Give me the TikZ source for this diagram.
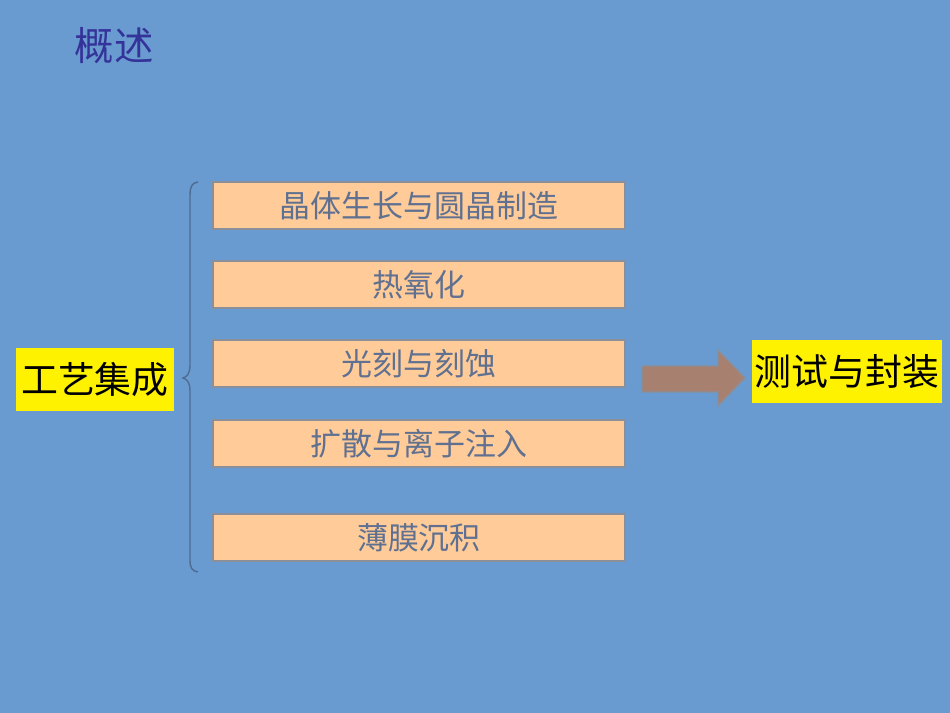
\documentclass[tikz,border=0pt]{standalone}
\usepackage{fontspec}
\setmainfont{Noto Sans CJK SC}
\definecolor{bg}{HTML}{6A9BD0}
\definecolor{titleblue}{HTML}{333399}
\definecolor{boxfill}{HTML}{FFCC99}
\definecolor{boxline}{HTML}{8A8F99}
\definecolor{boxtext}{HTML}{5F7090}
\definecolor{arrowbrown}{HTML}{A88070}
\definecolor{bracecol}{HTML}{4E6C92}
\tikzset{
  stepbox/.style={draw=boxline, line width=0.5pt, fill=boxfill, minimum width=4.12cm, minimum height=0.47cm, inner sep=0pt, text=boxtext, font=\fontsize{8.8}{10}\selectfont},
  hlbox/.style={fill=yellow, inner sep=0pt, text=black, font=\fontsize{10.5}{12}\selectfont},
}
\begin{document}
\begin{tikzpicture}[x=0.01cm,y=-0.01cm]
\useasboundingbox (0,0) rectangle (950,713);
\fill[bg] (0,0) rectangle (950,713);
\node[text=titleblue, font=\fontsize{11.2}{13}\selectfont, anchor=west, inner sep=0pt] (title) at (74,46) {概述};
\node[stepbox] (s1) at (419,205.5) {晶体生长与圆晶制造};
\node[stepbox] (s2) at (419,284.5) {热氧化};
\node[stepbox] (s3) at (419,363.5) {光刻与刻蚀};
\node[stepbox] (s4) at (419,443.5) {扩散与离子注入};
\node[stepbox] (s5) at (419,537.5) {薄膜沉积};
\node[hlbox, minimum width=1.58cm, minimum height=0.63cm] (proc) at (95,379.5) {工艺集成};
\node[hlbox, minimum width=1.90cm, minimum height=0.63cm] (test) at (847,371.5) {测试与封装};
\draw[bracecol, line width=0.4pt] (198,182) .. controls (192,183) and (190,186) .. (190,196) -- (190,366) .. controls (190,373) and (187,377) .. (183,378) .. controls (187,379) and (190,383) .. (190,390) -- (190,560) .. controls (190,568) and (192,571) .. (198,572);
\draw[fill=arrowbrown, draw=boxline, line width=0.4pt] (642,366) -- (718,366) -- (718,350) -- (745,378) -- (718,406) -- (718,392) -- (642,392) -- cycle;
\end{tikzpicture}
\end{document}
